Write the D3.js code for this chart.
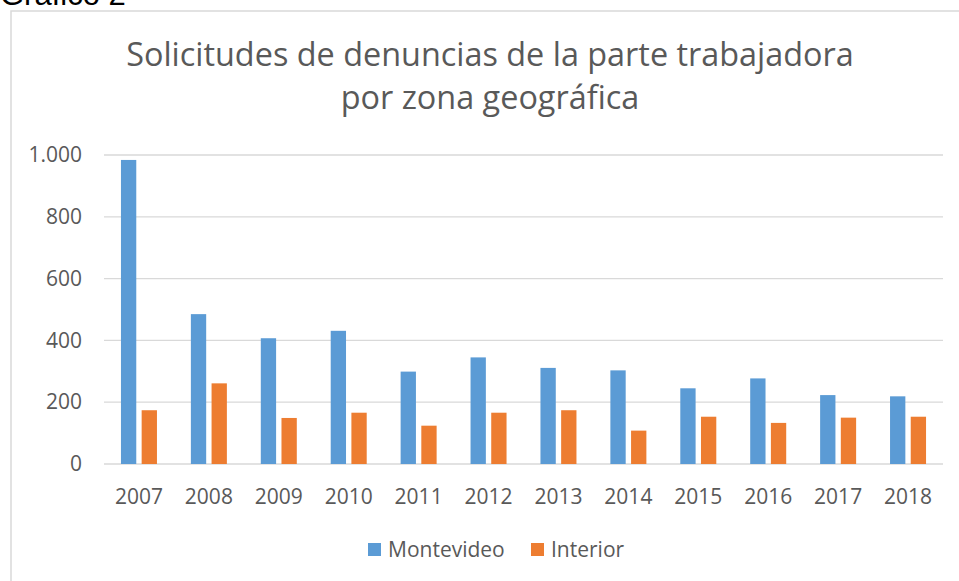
<!DOCTYPE html>
<html lang="es">
<head>
  <meta charset="UTF-8">
  <title>Gráfico 2</title>
  <style>
    html, body { margin: 0; background: #fff; }
    svg { display: block; }
    text { font-family: "Open Sans", sans-serif; fill: #595959; }
  </style>
</head>
<body>
  <div id="main"></div>
  <script src="https://cdn.jsdelivr.net/npm/d3@7/dist/d3.min.js"></script>
  <script>
    // datos
    const years = ['2007', '2008', '2009', '2010', '2011', '2012', '2013', '2014', '2015', '2016', '2017', '2018']
    const montevideo = [984, 485, 407, 431, 299, 345, 311, 303, 245, 277, 223, 219]
    const interior = [174, 261, 149, 166, 124, 166, 174, 108, 153, 133, 150, 153]
    const seriesNames = ['Montevideo', 'Interior']
    const colors = ['#5B9BD5', '#ED7D31']
    const yTicks = [0, 200, 400, 600, 800, 1000]

    const W = 959, H = 581
    const svg = d3.select('#main').append('svg').attr('width', W).attr('height', H)

    // caption fuera del gráfico (cortado arriba, como en la captura)
    svg.append('text').attr('x', 0).attr('y', 5)
      .style('font-family', 'Liberation Sans, Arial, sans-serif')
      .style('font-size', '31px').style('fill', '#000')
      .text('Gráfico 2')

    // borde del área del gráfico
    svg.append('rect').attr('x', 11).attr('y', 11)
      .attr('width', W).attr('height', H)
      .attr('fill', '#fff').attr('stroke', '#D9D9D9').attr('stroke-width', 1.5)

    // título
    const title = svg.append('text').attr('text-anchor', 'middle').style('font-size', '32.4px')
    title.append('tspan').attr('x', 490).attr('y', 66).text('Solicitudes de denuncias de la parte trabajadora')
    title.append('tspan').attr('x', 490).attr('y', 109).text('por zona geográfica')

    const plotL = 104, plotR = 943, plotT = 155, plotB = 464

    const x = d3.scaleBand().domain(years).range([plotL, plotR])
    const groupW = 36
    const x1 = d3.scaleBand().domain(seriesNames).range([0, groupW]).paddingInner(0.26)
    const y = d3.scaleLinear().domain([0, 1000]).range([plotB, plotT])

    const loc = d3.formatLocale({ decimal: ',', thousands: '.', grouping: [3], currency: ['$', ''] })
    const fmt = loc.format(',d')

    // líneas de cuadrícula
    svg.append('g').selectAll('line').data(yTicks).join('line')
      .attr('x1', plotL).attr('x2', plotR)
      .attr('y1', d => y(d)).attr('y2', d => y(d))
      .attr('stroke', '#D9D9D9').attr('stroke-width', 1.3)

    // eje y
    const yAxis = svg.append('g').attr('transform', `translate(${plotL - 22},0)`)
      .call(d3.axisLeft(y).tickValues(yTicks).tickFormat(fmt).tickSize(0).tickPadding(0))
    yAxis.select('.domain').remove()
    yAxis.selectAll('text').style('font-size', '21px').attr('fill', '#595959')
      .style('font-family', '"Open Sans", sans-serif')

    // eje x
    const xAxis = svg.append('g').attr('transform', `translate(0,${plotB})`)
      .call(d3.axisBottom(x).tickSize(0).tickPadding(25))
    xAxis.select('.domain').remove()
    xAxis.selectAll('text').style('font-size', '21px').attr('fill', '#595959')
      .style('font-family', '"Open Sans", sans-serif')

    // barras
    const rows = years.map((yr, i) => ({ year: yr, values: [montevideo[i], interior[i]] }))
    const groups = svg.append('g').selectAll('g').data(rows).join('g')
      .attr('transform', d => `translate(${x(d.year) + (x.bandwidth() - groupW) / 2},0)`)
    groups.selectAll('rect')
      .data(d => d.values.map((v, j) => ({ name: seriesNames[j], value: v, color: colors[j] })))
      .join('rect')
      .attr('x', d => x1(d.name))
      .attr('width', x1.bandwidth())
      .attr('y', d => y(d.value))
      .attr('height', d => plotB - y(d.value))
      .attr('fill', d => d.color)

    // leyenda
    const legendX = [368, 531]
    const legend = svg.append('g').selectAll('g').data(seriesNames).join('g')
      .attr('transform', (d, i) => `translate(${legendX[i]},543)`)
    legend.append('rect').attr('width', 13).attr('height', 13)
      .attr('fill', (d, i) => colors[i])
    legend.append('text').attr('x', 20).attr('y', 13.5)
      .style('font-size', '21px').text(d => d)
  </script>
</body>
</html>
